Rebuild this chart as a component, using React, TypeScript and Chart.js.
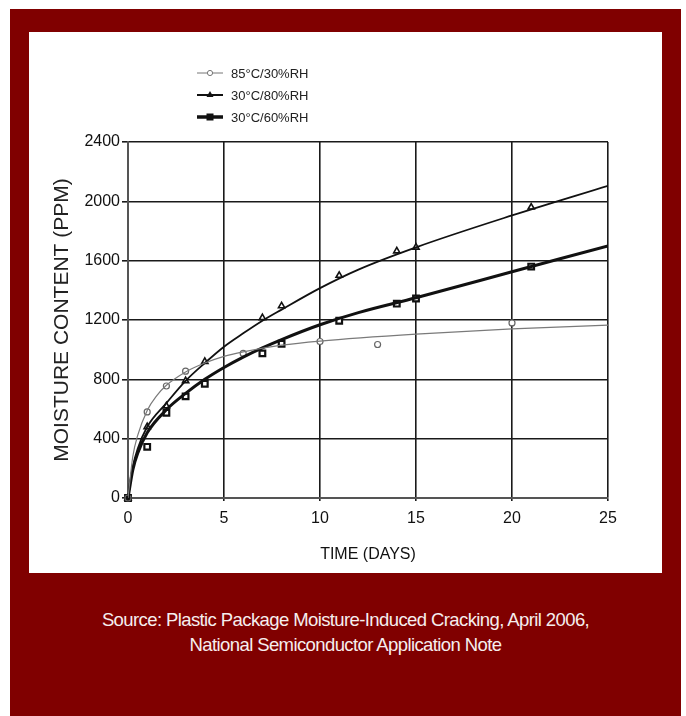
import React, { useEffect, useRef } from 'react';
import { Chart, registerables } from 'chart.js';

Chart.register(...registerables);

// ---- data ----
const xTickValues = [0, 5, 10, 15, 20, 25];
const yTickValues = [0, 400, 800, 1200, 1600, 2000, 2400];

const seriesNames = ['85°C/30%RH', '30°C/80%RH', '30°C/60%RH'];

// measured points
const days85 = [0, 1, 2, 3, 6, 10, 13, 20];
const ppm85 = [0, 580, 755, 855, 975, 1055, 1035, 1180];

const days80 = [0, 1, 2, 3, 4, 7, 8, 11, 14, 15, 21];
const ppm80 = [0, 480, 620, 790, 920, 1215, 1295, 1500, 1665, 1690, 1960];

const days60 = [0, 1, 2, 3, 4, 7, 8, 11, 14, 15, 21];
const ppm60 = [0, 345, 575, 685, 770, 975, 1040, 1195, 1310, 1345, 1560];

// fitted curves
const fitDays85 = [0, 0.25, 0.5, 1, 1.5, 2, 3, 4, 5, 6, 8, 10, 15, 20, 25];
const fit85 = [0, 280, 420, 590, 690, 760, 850, 910, 955, 985, 1030, 1058, 1105, 1140, 1165];

const fitDays80 = [0, 0.25, 0.5, 1, 2, 3, 4, 5, 6, 7, 8, 10, 12, 15, 20, 25];
const fit80 = [0, 210, 330, 480, 640, 790, 910, 1020, 1110, 1195, 1270, 1415, 1540, 1690, 1905, 2105];

const fitDays60 = [0, 0.25, 0.5, 1, 2, 3, 4, 5, 6, 7, 8, 10, 12, 15, 20, 25];
const fit60 = [0, 190, 300, 440, 595, 705, 800, 880, 950, 1012, 1068, 1168, 1250, 1350, 1525, 1700];

const xTitle = 'TIME (DAYS)';
const yTitle = 'MOISTURE CONTENT (PPM)';
const captionLines = [
  'Source: Plastic Package Moisture-Induced Cracking, April 2006,',
  'National Semiconductor Application Note',
];

const FONT = "'Liberation Sans', Arial, sans-serif";

const pts = (xs: number[], ys: number[]) => xs.map((x, i) => ({ x, y: ys[i] }));

const legendPlugin = {
  id: 'customLegend',
  afterDraw(chart: any) {
    const ctx = chart.ctx as CanvasRenderingContext2D;
    const rows = [
      { name: seriesNames[0], color: '#777', lw: 1, marker: 'circle' },
      { name: seriesNames[1], color: '#111', lw: 2, marker: 'triangle' },
      { name: seriesNames[2], color: '#111', lw: 3.5, marker: 'rect' },
    ];
    const x0 = 168, x1 = 194, mx = 181, tx = 202;
    const ys = [41, 63, 85];
    ctx.save();
    rows.forEach((r, i) => {
      const y = ys[i];
      ctx.strokeStyle = r.color;
      ctx.lineWidth = r.lw;
      ctx.beginPath();
      ctx.moveTo(x0, y);
      ctx.lineTo(x1, y);
      ctx.stroke();
      if (r.marker === 'circle') {
        ctx.fillStyle = '#fff';
        ctx.lineWidth = 1;
        ctx.beginPath();
        ctx.arc(mx, y, 2.6, 0, Math.PI * 2);
        ctx.fill();
        ctx.stroke();
      } else if (r.marker === 'triangle') {
        ctx.fillStyle = '#111';
        ctx.beginPath();
        ctx.moveTo(mx, y - 4);
        ctx.lineTo(mx + 3.5, y + 2);
        ctx.lineTo(mx - 3.5, y + 2);
        ctx.closePath();
        ctx.fill();
      } else {
        ctx.fillStyle = '#111';
        ctx.fillRect(mx - 3.5, y - 3.5, 7, 7);
      }
      ctx.fillStyle = '#222';
      ctx.font = `13px ${FONT}`;
      ctx.textBaseline = 'middle';
      ctx.textAlign = 'left';
      ctx.fillText(r.name, tx, y + 1);
    });
    ctx.restore();
  },
};

const originFill = (fill: string) => (c: any) => (c.dataIndex === 0 ? '#111' : fill);

function MoistureChart() {
  const ref = useRef<HTMLCanvasElement | null>(null);
  useEffect(() => {
    if (!ref.current) return;
    const chart = new Chart(ref.current, {
      type: 'scatter',
      data: {
        datasets: [
          {
            label: seriesNames[0] + ' fit',
            type: 'line',
            data: pts(fitDays85, fit85),
            borderColor: '#7a7a7a',
            borderWidth: 1.2,
            pointRadius: 0,
            cubicInterpolationMode: 'monotone',
            fill: false,
          },
          {
            label: seriesNames[1] + ' fit',
            type: 'line',
            data: pts(fitDays80, fit80),
            borderColor: '#111',
            borderWidth: 1.8,
            pointRadius: 0,
            cubicInterpolationMode: 'monotone',
            fill: false,
          },
          {
            label: seriesNames[2] + ' fit',
            type: 'line',
            data: pts(fitDays60, fit60),
            borderColor: '#111',
            borderWidth: 3,
            pointRadius: 0,
            cubicInterpolationMode: 'monotone',
            fill: false,
          },
          {
            label: seriesNames[0],
            data: pts(days85, ppm85),
            pointStyle: 'circle',
            pointRadius: 3,
            pointBorderWidth: 1.2,
            pointBorderColor: '#666',
            pointBackgroundColor: originFill('#fff'),
            showLine: false,
            clip: false,
          },
          {
            label: seriesNames[1],
            data: pts(days80, ppm80),
            pointStyle: 'triangle',
            pointRadius: 3.6,
            pointBorderWidth: 1.6,
            pointBorderColor: '#111',
            pointBackgroundColor: originFill('#fff'),
            showLine: false,
            clip: false,
          },
          {
            label: seriesNames[2],
            data: pts(days60, ppm60),
            pointStyle: 'rect',
            pointRadius: 4,
            pointBorderWidth: 2.2,
            pointBorderColor: '#111',
            pointBackgroundColor: originFill('#fff'),
            showLine: false,
            clip: false,
          },
        ],
      },
      options: {
        responsive: false,
        animation: false,
        layout: { padding: { left: 0, top: 110, right: 54, bottom: 9 } },
        plugins: {
          legend: { display: false },
          tooltip: { enabled: false },
        },
        scales: {
          x: {
            type: 'linear',
            min: 0,
            max: 25,
            afterBuildTicks: (s: any) => {
              s.ticks = xTickValues.map((v) => ({ value: v }));
            },
            afterFit: (s: any) => {
              s.height = 66;
            },
            ticks: {
              color: '#111',
              font: { family: FONT, size: 16 },
              padding: 8,
              maxRotation: 0,
              callback: (v: any) => String(v),
            },
            grid: { color: '#1a1a1a', lineWidth: 1.6, tickLength: 3 },
            border: { color: '#555', width: 2 },
            title: {
              display: true,
              text: xTitle,
              color: '#111',
              font: { family: FONT, size: 16 },
              padding: { top: 0, bottom: 0 },
            },
          },
          y: {
            type: 'linear',
            min: 0,
            max: 2400,
            afterBuildTicks: (s: any) => {
              s.ticks = yTickValues.map((v) => ({ value: v }));
            },
            afterFit: (s: any) => {
              s.width = 99;
            },
            ticks: {
              color: '#111',
              font: { family: FONT, size: 16 },
              padding: 2,
              callback: (v: any) => String(v),
            },
            grid: { color: '#1a1a1a', lineWidth: 1.6, tickLength: 6 },
            border: { color: '#555', width: 2 },
            title: {
              display: true,
              text: yTitle,
              color: '#222',
              font: { family: FONT, size: 21 },
              padding: { top: 21, bottom: 0 },
            },
          },
        },
      },
      plugins: [legendPlugin],
    } as any);
    return () => chart.destroy();
  }, []);
  return <canvas ref={ref} width={633} height={541} style={{ display: 'block', width: 633, height: 541 }} />;
}

export default function App() {
  return (
    <div
      style={{
        position: 'absolute',
        left: 10,
        top: 9,
        width: 671,
        height: 707,
        background: '#800000',
      }}
    >
      <div
        style={{
          position: 'absolute',
          left: 19,
          top: 23,
          width: 633,
          height: 541,
          background: '#fff',
        }}
      >
        <MoistureChart />
      </div>
      <div
        style={{
          position: 'absolute',
          left: 0,
          top: 598,
          width: 671,
          textAlign: 'center',
          color: '#f6eeee',
          fontFamily: FONT,
          fontSize: 18.5,
          lineHeight: '25px',
          letterSpacing: '-0.6px',
        }}
      >
        {captionLines.map((l, i) => (
          <div key={i}>{l}</div>
        ))}
      </div>
    </div>
  );
}
